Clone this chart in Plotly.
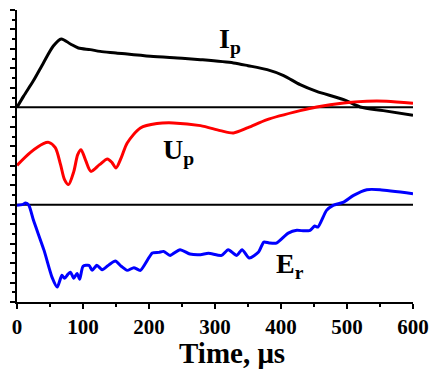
import plotly.graph_objects as go

# Time axis values (microseconds) and signal values (arbitrary units, in minor-tick units relative to each baseline)
ip_t = [0, 10, 25, 40, 55, 67, 81, 93, 111, 126, 150, 202, 250, 278, 328, 350, 379, 404, 429, 454, 495, 520, 555, 600]
ip_v = [0, 1.15, 2.75, 4.56, 6.30, 7.03, 6.51, 6.10, 5.93, 5.75, 5.59, 5.24, 5.05, 4.90, 4.56, 4.28, 3.87, 3.26, 2.33, 1.64, 0.79, 0.04, -0.34, -0.82]

up_t = [0, 20, 40, 48, 58, 66, 72, 78, 86, 92, 97, 104, 112, 125, 137, 144, 150, 158, 167, 187, 212, 237, 278, 308, 328, 350, 379, 429, 454, 495, 530, 560, 600]
up_v = [-5.96, -4.65, -3.73, -3.60, -4.14, -5.89, -7.43, -7.94, -6.61, -4.86, -4.35, -5.45, -6.58, -5.89, -5.30, -5.68, -6.23, -5.17, -3.66, -2.12, -1.67, -1.60, -1.88, -2.39, -2.63, -2.09, -1.26, -0.34, 0.04, 0.45, 0.62, 0.62, 0.41]

er_t = [0, 8, 13, 18, 25, 41, 53, 61, 68, 72, 77, 81, 86, 91, 95, 100, 109, 114, 121, 129, 140, 149, 158, 167, 177, 187, 205, 215, 222, 232, 247, 262, 278, 290, 310, 320, 333, 341, 352, 366, 374, 382, 393, 411, 424, 435, 444, 451, 456, 469, 479, 495, 510, 530, 550, 600]
er_v = [-0.07, 0, 0.16, -0.07, -1.61, -4.70, -7.44, -8.47, -7.26, -7.57, -7.16, -6.93, -7.55, -7.06, -7.67, -6.33, -6.23, -6.75, -6.23, -6.68, -6.14, -5.79, -6.33, -6.75, -6.47, -6.75, -4.97, -4.90, -4.80, -5.21, -4.62, -5.07, -5.14, -5.00, -5.21, -4.62, -5.21, -4.62, -5.49, -4.87, -3.84, -3.93, -3.95, -2.92, -2.64, -2.69, -2.64, -2.20, -2.30, -0.59, -0.07, 0.27, 0.96, 1.54, 1.54, 1.13]

ip_base = 20
er_base = 10

x_ticks = [0, 100, 200, 300, 400, 500, 600]

font_family = "Liberation Serif"

fig = go.Figure()

# baselines
for b in (ip_base, er_base):
    fig.add_trace(go.Scatter(x=[0, 600], y=[b, b], mode="lines",
                             line=dict(color="black", width=2), hoverinfo="skip", showlegend=False))

fig.add_trace(go.Scatter(x=ip_t, y=[v + ip_base for v in ip_v], mode="lines",
                         line=dict(color="black", width=3, shape="spline", smoothing=0.8), showlegend=False))
fig.add_trace(go.Scatter(x=up_t, y=[v + ip_base for v in up_v], mode="lines",
                         line=dict(color="#ff0000", width=3, shape="spline", smoothing=0.8), showlegend=False))
fig.add_trace(go.Scatter(x=er_t, y=[v + er_base for v in er_v], mode="lines",
                         line=dict(color="#0000ff", width=3, shape="spline", smoothing=0.6), showlegend=False))

lab_font = dict(family=font_family, size=28, color="black", weight="bold")
fig.add_annotation(x=323, y=26.9, text="I<sub>p</sub>", showarrow=False, font=lab_font, xanchor="center", yanchor="middle")
fig.add_annotation(x=244, y=15.5, text="U<sub>p</sub>", showarrow=False, font=lab_font, xanchor="center", yanchor="middle")
fig.add_annotation(x=413, y=3.8, text="E<sub>r</sub>", showarrow=False, font=lab_font, xanchor="center", yanchor="middle")

fig.add_annotation(x=0.5435, y=-0.175, xref="paper", yref="paper", text="Time, μs", showarrow=False,
                   font=dict(family=font_family, size=29, color="black", weight="bold"),
                   xanchor="center", yanchor="middle")

fig.update_layout(
    width=431, height=369,
    margin=dict(l=16.5, r=18, t=10, b=67),
    paper_bgcolor="white", plot_bgcolor="white",
    xaxis=dict(range=[0, 600], tickvals=x_ticks, ticktext=[str(v) for v in x_ticks],
               ticks="outside", ticklen=5, tickwidth=1.5, tickcolor="black",
               minor=dict(dtick=50, ticks="outside", ticklen=3, tickwidth=1.5, tickcolor="black"),
               showline=True, linecolor="black", linewidth=2, showgrid=False, zeroline=False,
               automargin=False, ticklabeloverflow="allow",
               tickfont=dict(family=font_family, size=21, color="black", weight="bold")),
    yaxis=dict(range=[0, 30], dtick=2, tick0=0, ticks="outside", ticklen=5, tickwidth=1.5, tickcolor="black",
               minor=dict(dtick=1, ticks="outside", ticklen=3, tickwidth=1.5, tickcolor="black"),
               showticklabels=False, showline=True, linecolor="black", linewidth=2,
               showgrid=False, zeroline=False, automargin=False),
)

fig.write_html("out.html", config={"displayModeBar": False},
               post_script="document.body.style.margin='0';document.body.style.overflow='hidden';")
